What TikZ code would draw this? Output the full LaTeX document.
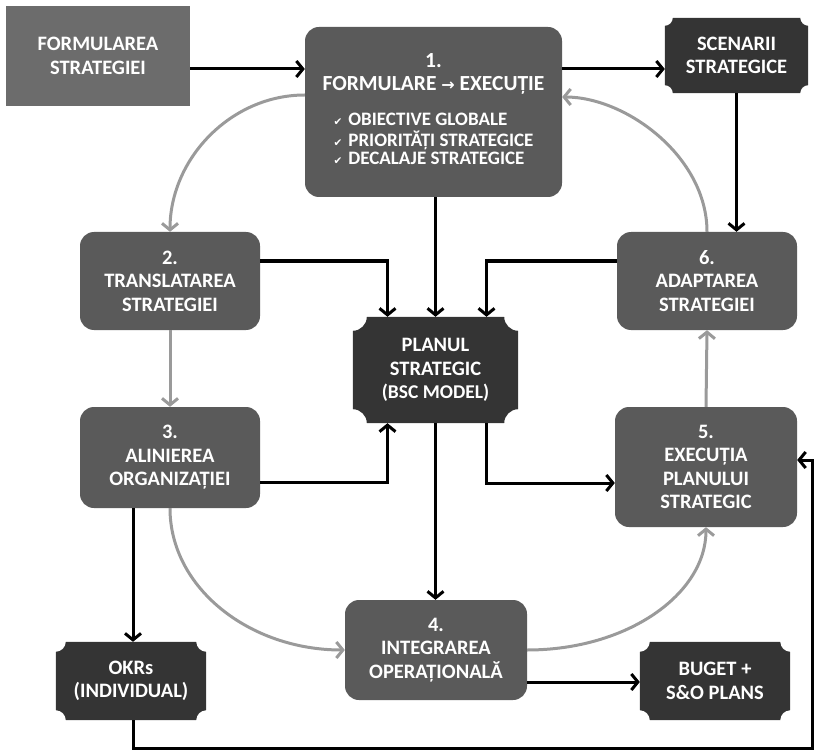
\documentclass[tikz,border=0pt]{standalone}
\usepackage{fontspec}
\setmainfont{Carlito}
\newfontfamily\djv{DejaVu Sans}
\usetikzlibrary{arrows.meta,backgrounds,calc}
\definecolor{boxg}{HTML}{5A5A5A}
\definecolor{boxl}{HTML}{6C6C6C}
\definecolor{plaq}{HTML}{343434}
\definecolor{flow}{HTML}{9A9A9A}
\newcommand{\plaque}[2]{%
  \fill[plaq] let \p1=(#1.south west), \p2=(#1.north east) in
   (\x1+#2,\y2) -- (\x2-#2,\y2) .. controls (\x2-#2,\y2-0.55*#2) and (\x2-0.55*#2,\y2-#2) .. (\x2,\y2-#2)
   -- (\x2,\y1+#2) .. controls (\x2-0.55*#2,\y1+#2) and (\x2-#2,\y1+0.55*#2) .. (\x2-#2,\y1)
   -- (\x1+#2,\y1) .. controls (\x1+#2,\y1+0.55*#2) and (\x1+0.55*#2,\y1+#2) .. (\x1,\y1+#2)
   -- (\x1,\y2-#2) .. controls (\x1+0.55*#2,\y2-#2) and (\x1+#2,\y2-0.55*#2) .. (\x1+#2,\y2) -- cycle;}
\newcommand{\chk}{{\djv\fontsize{10.5}{10.5}\selectfont ✔}\hspace{6pt}}
\tikzset{
  lbl/.style={text=white, font=\bfseries\fontsize{20.5}{23.5}\selectfont, align=center, inner sep=0pt},
  rbox/.style={lbl, fill=boxg, rounded corners=14pt},
  sbox/.style={lbl, fill=boxl},
  pbox/.style={lbl},
  arr/.style={line width=3pt, -{Straight Barb[length=6.5pt,width=16pt]}},
  garr/.style={arr, draw=flow},
}
\begin{document}
\begin{tikzpicture}[x=1pt,y=-1pt]
\useasboundingbox (0,0) rectangle (814,754);
% nodes
\node[sbox, minimum width=184pt, minimum height=100pt] (fs) at (98,56) {FORMULAREA\\STRATEGIEI};
\node[rbox, minimum width=257pt, minimum height=170pt, font=\bfseries\fontsize{21.5}{24}\selectfont] (n1) at (433.5,112)
  {1.\\[-1pt]FORMULARE {\djv\fontsize{16}{16}\selectfont →} EXECUȚIE\\[17pt]
   {\fontsize{19}{19.5}\selectfont\renewcommand{\arraystretch}{0.95}\begin{tabular}{@{}l@{}}
   \chk OBIECTIVE GLOBALE\\
   \chk PRIORITĂȚI STRATEGICE\\
   \chk DECALAJE STRATEGICE
   \end{tabular}}};
\node[pbox, minimum width=143pt, minimum height=75pt] (sc) at (736.5,55.5) {SCENARII\\STRATEGICE};
\node[rbox, minimum width=180pt, minimum height=98pt] (n2) at (170,281) {2.\\TRANSLATAREA\\STRATEGIEI};
\node[rbox, minimum width=180pt, minimum height=98pt] (n6) at (707,281) {6.\\ADAPTAREA\\STRATEGIEI};
\node[pbox, minimum width=165pt, minimum height=106pt] (pl) at (435.5,370) {PLANUL\\STRATEGIC\\{\fontsize{19.5}{22}\selectfont (BSC MODEL)}};
\node[rbox, minimum width=180pt, minimum height=101pt] (n3) at (170,457.5) {3.\\ALINIEREA\\ORGANIZAȚIEI};
\node[rbox, minimum width=182pt, minimum height=120pt] (n5) at (706,467) {5.\\EXECUȚIA\\PLANULUI\\STRATEGIC};
\node[rbox, minimum width=182pt, minimum height=100pt] (n4) at (436,650) {4.\\INTEGRAREA\\OPERAȚIONALĂ};
\node[pbox, minimum width=150pt, minimum height=78pt] (ok) at (131,681) {OKRs\\(INDIVIDUAL)};
\node[pbox, minimum width=150pt, minimum height=78pt] (bu) at (715,681) {BUGET +\\S\&O PLANS};
\coordinate (loopr) at (812,748);
\begin{scope}[on background layer]
  \plaque{sc}{8pt}
  \plaque{pl}{14pt}
  \plaque{ok}{10pt}
  \plaque{bu}{10pt}
\end{scope}
% black connectors
\draw[arr] ([yshift=-13pt]fs.east) -- ([yshift=-13pt]fs.east -| n1.west);
\draw[arr] ([yshift=-13pt]fs.east -| n1.east) -- ([yshift=-13pt]fs.east -| sc.west);
\draw[arr] (sc.south) -- (sc.south |- n6.north);
\draw[arr] (pl.north |- n1.south) -- (pl.north);
\draw[arr] ([yshift=20pt]n2.east) -| ([xshift=-48pt]pl.north);
\draw[arr] ([yshift=20pt]n6.west) -| ([xshift=51pt]pl.north);
\draw[arr] ([yshift=-25pt]n3.east) -| ([xshift=-48pt]pl.south);
\draw[arr] ([xshift=51pt]pl.south) |- ([yshift=-16pt]n5.west);
\draw[arr] (pl.south) -- (pl.south |- n4.north);
\draw[arr] ([xshift=2pt]ok.north |- n3.south) -- ([xshift=2pt]ok.north);
\draw[arr] ([yshift=-32pt]n4.east) -- ([yshift=-32pt]n4.east -| bu.west);
\draw[arr] ([xshift=2pt]ok.south) |- (loopr) |- ([yshift=7pt]n5.east);
% gray cycle
\draw[garr] ([yshift=17pt]n1.west) .. controls +(-74,0) and +(0,-73) .. (n2.north);
\draw[garr] (n2.south) -- (n3.north);
\draw[garr] (n3.south) .. controls +(0,80) and +(-95,0) .. (n4.west);
\draw[garr] (n4.east) .. controls +(100,0) and +(0,67) .. (n5.south);
\draw[garr] (n5.north) -- (n6.south);
\draw[garr] (n6.north) .. controls +(0,-75) and +(64,0) .. ([yshift=15pt]n1.east);
\end{tikzpicture}
\end{document}
